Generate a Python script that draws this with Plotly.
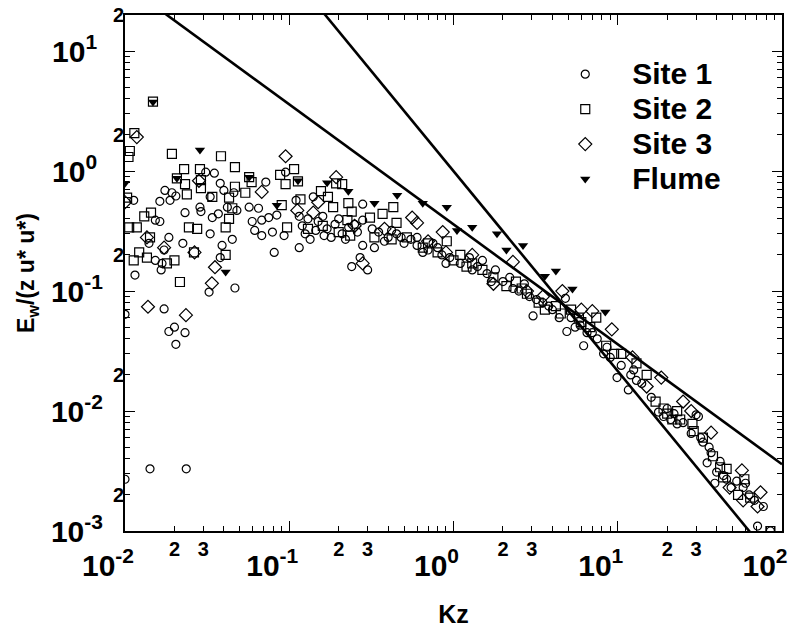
import plotly.graph_objects as go
import math

# ---------------- data ----------------
site1_kz = [0.0100, 0.0100, 0.0142, 0.0236, 0.0115, 0.0173, 0.0200, 0.0185, 0.0232, 0.0204,
            0.0325, 0.0467, 0.038, 0.0153, 0.0168, 0.0166, 0.0140, 0.0173, 0.0185, 0.0225,
            0.039, 0.045, 0.033, 0.081, 0.115, 0.0153, 0.0163, 0.034, 0.037, 0.0595,
            0.068, 0.075, 0.084, 0.0616, 0.068, 0.079, 0.093, 0.0232, 0.0286, 0.029,
            0.042, 0.048, 0.057, 0.065, 0.110, 0.0113, 0.0163, 0.0188, 0.033, 0.0175,
            0.0193, 0.0204, 0.038, 0.040, 0.046, 0.072, 0.031, 0.035, 0.095,
            0.134, 0.163, 0.140, 0.28, 0.28, 0.28, 0.33, 0.27, 0.24, 0.30,
            0.12, 0.13, 0.15, 0.17, 0.19, 0.21, 0.23, 0.26, 0.35, 0.40,
            0.45, 0.50, 0.55, 0.60, 0.70, 0.75, 0.85, 0.95, 1.1, 1.25,
            1.4, 1.6, 1.8, 2.0, 2.2, 2.5, 2.7, 3.05, 3.2, 3.5,
            4.0, 4.4, 4.8, 4.9, 5.5, 6.2, 6.5, 7.5, 8.2, 9.0,
            9.9, 11.6, 12.0, 12.5, 14, 17.7, 19, 21, 23, 30,
            31, 33, 35, 36, 39, 40, 44, 49, 58, 63,
            71, 77, 85,
            0.115, 0.125, 0.145, 0.16, 0.18, 0.20, 0.22, 0.25, 0.32, 0.38,
            0.42, 0.48, 0.60, 0.65, 0.80, 0.90, 1.3, 1.5, 1.7, 2.3,
            2.9, 3.8, 5.2, 5.9, 7.0, 8.6, 10.5, 13, 16, 20,
            22, 25, 28, 32, 37, 42, 46, 53, 60, 68]
site1_e = [0.064, 0.0027, 0.0033, 0.0033, 0.136, 0.071, 0.050, 0.046, 0.045, 0.036,
           0.098, 0.106, 0.19, 0.18, 0.17, 0.15, 0.25, 0.22, 0.28, 0.25,
           0.24, 0.27, 0.30, 0.21, 0.23, 0.39, 0.38, 0.41, 0.44, 0.38,
           0.39, 0.41, 0.43, 0.32, 0.29, 0.31, 0.29, 0.45, 0.50, 0.46,
           0.50, 0.47, 0.50, 0.49, 0.57, 0.57, 0.56, 0.57, 0.61, 0.69,
           0.66, 0.62, 0.79, 0.69, 0.66, 0.81, 0.98, 0.96, 0.98,
           0.27, 0.29, 0.61, 0.53, 0.39, 0.24, 0.23, 0.19, 0.16, 0.15,
           0.35, 0.40, 0.38, 0.33, 0.36, 0.30, 0.34, 0.31, 0.31, 0.28,
           0.30, 0.25, 0.27, 0.24, 0.22, 0.25, 0.20, 0.19, 0.17, 0.19,
           0.16, 0.14, 0.15, 0.12, 0.13, 0.10, 0.115, 0.062, 0.085, 0.080,
           0.070, 0.060, 0.087, 0.046, 0.050, 0.035, 0.045, 0.040, 0.030, 0.028,
           0.019, 0.015, 0.020, 0.022, 0.017, 0.0098, 0.0090, 0.0085, 0.0078, 0.0093,
           0.0090, 0.0055, 0.0037, 0.0050, 0.0025, 0.0031, 0.0029, 0.0023, 0.0023, 0.0020,
           0.0011, 0.0016, 0.0010,
           0.42, 0.30, 0.32, 0.42, 0.28, 0.40, 0.27, 0.36, 0.33, 0.26,
           0.32, 0.28, 0.28, 0.21, 0.23, 0.17, 0.15, 0.18, 0.12, 0.105,
           0.090, 0.075, 0.060, 0.052, 0.045, 0.034, 0.024, 0.018, 0.013, 0.0105,
           0.0095, 0.0080, 0.0065, 0.0060, 0.0045, 0.0038, 0.0027, 0.0026, 0.0025, 0.0018]

site2_kz = [0.0148, 0.0114, 0.0107, 0.0105, 0.0193, 0.0384, 0.0467, 0.107, 0.088, 0.095,
            0.113, 0.0229, 0.0286, 0.0207, 0.0232, 0.029, 0.029, 0.0238, 0.0467, 0.057,
            0.059, 0.054, 0.0103, 0.034, 0.043, 0.045, 0.090, 0.043, 0.041, 0.0275,
            0.0245, 0.097, 0.0131, 0.0144, 0.0106, 0.0118, 0.0142, 0.0263, 0.041, 0.0122,
            0.0113, 0.0136, 0.018, 0.020, 0.0216,
            0.117, 0.156, 0.172, 0.193, 0.21, 0.229, 0.43, 0.185, 0.24, 0.31,
            0.37, 0.226, 0.45, 0.235, 0.91, 0.13, 0.16, 0.20, 0.33, 0.42,
            0.52, 0.65, 0.80, 1.0, 1.2, 1.5, 1.75, 2.1, 2.4, 2.8,
            3.3, 4.2, 5.2, 5.8, 7.4, 6.8, 8.5, 10.5, 13, 15,
            19, 20, 21.5, 23, 28.5, 29, 33, 42, 43.8, 54,
            59, 85, 0.70, 1.1, 1.3, 2.6, 3.6, 4.5, 6.0, 9.5,
            17, 24, 38, 46, 64]
site2_e = [3.8, 2.07, 1.47, 1.31, 1.39, 1.33, 1.08, 1.04, 0.93, 0.78,
           0.82, 1.04, 1.04, 0.87, 0.78, 0.84, 0.72, 0.64, 0.74, 0.89,
           0.81, 0.66, 0.60, 0.61, 0.60, 0.49, 0.52, 0.40, 0.34, 0.33,
           0.34, 0.34, 0.42, 0.45, 0.34, 0.34, 0.28, 0.21, 0.20, 0.21,
           0.18, 0.19, 0.17, 0.18, 0.119,
           0.58, 0.68, 0.61, 0.79, 0.78, 0.54, 0.50, 0.50, 0.46, 0.41,
           0.44, 0.39, 0.37, 0.29, 0.26, 0.33, 0.35, 0.31, 0.28, 0.27,
           0.28, 0.23, 0.21, 0.18, 0.16, 0.15, 0.13, 0.11, 0.12, 0.095,
           0.080, 0.075, 0.070, 0.060, 0.060, 0.050, 0.035, 0.030, 0.025, 0.020,
           0.0105, 0.0095, 0.0085, 0.010, 0.0078, 0.0068, 0.0060, 0.0034, 0.0028, 0.0020,
           0.0027, 0.0010, 0.25, 0.20, 0.17, 0.105, 0.070, 0.065, 0.055, 0.030,
           0.012, 0.0085, 0.0042, 0.0033, 0.0019]

site3_kz = [0.0118, 0.095, 0.0282, 0.068, 0.0136, 0.0173, 0.0265, 0.0353, 0.0338, 0.0138,
            0.0235, 0.193, 0.112, 0.56, 0.60, 0.86, 0.28, 0.14, 0.25, 0.38,
            1.75, 2.3, 1.3, 4.6, 7.0, 9.2, 12.3, 18.4, 28, 37,
            57, 48, 58, 74, 71, 3.5, 6.0, 15, 25, 0.70,
            0.90, 2.8, 0.15, 0.0100]
site3_e = [1.92, 1.33, 0.83, 0.67, 0.28, 0.23, 0.21, 0.158, 0.116, 0.074,
           0.063, 0.89, 0.47, 0.41, 0.37, 0.31, 0.17, 0.45, 0.35, 0.33,
           0.115, 0.175, 0.20, 0.10, 0.068, 0.048, 0.028, 0.019, 0.010, 0.0066,
           0.0032, 0.0023, 0.0018, 0.0021, 0.0016, 0.090, 0.070, 0.016, 0.012, 0.26,
           0.21, 0.10, 0.55, 0.55]

flume_kz = [0.0148, 0.0100, 0.0286, 0.0207, 0.057, 0.113, 0.084, 0.041, 0.17, 0.229,
            0.33, 0.454, 0.65, 0.91, 1.05, 1.3, 1.84, 2.1, 2.65, 3.6,
            4.2, 5.3, 8.4]
flume_e = [3.76, 0.79, 1.5, 0.87, 0.89, 0.83, 0.52, 0.144, 0.80, 0.68,
           0.54, 0.63, 0.54, 0.50, 0.32, 0.34, 0.30, 0.22, 0.24, 0.133,
           0.147, 0.104, 0.067]

# reference lines (slope -1 and slope -5/3), end points
line1_kz = [0.01, 100]
line1_e = [36.0, 0.0036]
line2_kz = [0.1, 100]
line2_e = [46.4, 0.000464]

# tick labels
x_major = [0.01, 0.1, 1, 10, 100]
x_major_text = ["10<sup>-2</sup>", "10<sup>-1</sup>", "10<sup>0</sup>", "10<sup>1</sup>", "10<sup>2</sup>"]
x_small = [0.02, 0.03, 0.2, 0.3, 2, 3, 20, 30]
x_small_text = ["2", "3", "2", "3", "2", "3", "2", "3"]
y_major = [0.001, 0.01, 0.1, 1, 10]
y_major_text = ["10<sup>-3</sup>", "10<sup>-2</sup>", "10<sup>-1</sup>", "10<sup>0\u00a0</sup>", "10<sup>1\u00a0</sup>"]
y_small = [0.002, 0.02, 0.2, 2, 20]
y_small_text = ["2", "2", "2", "2", "2"]

FONT = "Liberation Sans"

x_minor_vals = [k * 10.0 ** e for e in range(-2, 2) for k in range(2, 10)]
y_minor_vals = [k * 10.0 ** e for e in range(-3, 2) for k in range(2, 10) if k * 10.0 ** e < 20]

fig = go.Figure()

mk_line = dict(width=1.2, color="black")
fig.add_trace(go.Scatter(x=site1_kz, y=site1_e, mode="markers", name='<span style="font-size:30px">Site 1</span>',
                         marker=dict(symbol="circle-open", size=8, color="black", line=mk_line)))
fig.add_trace(go.Scatter(x=site2_kz, y=site2_e, mode="markers", name='<span style="font-size:30px">Site 2</span>',
                         marker=dict(symbol="square-open", size=9, color="black", line=mk_line)))
fig.add_trace(go.Scatter(x=site3_kz, y=site3_e, mode="markers", name='<span style="font-size:30px">Site 3</span>',
                         marker=dict(symbol="diamond-open", size=10, color="black", line=mk_line)))
fig.add_trace(go.Scatter(x=flume_kz, y=flume_e, mode="markers", name='<span style="font-size:30px">Flume</span>',
                         marker=dict(symbol="triangle-down", size=9, color="black", line=dict(width=0))))
fig.add_trace(go.Scatter(x=line1_kz, y=line1_e, mode="lines", showlegend=False,
                         line=dict(color="black", width=2.6)))
fig.add_trace(go.Scatter(x=line2_kz, y=line2_e, mode="lines", showlegend=False,
                         line=dict(color="black", width=2.6)))
# carrier for the overlay label axes
fig.add_trace(go.Scatter(x=[], y=[], xaxis="x2", yaxis="y2", showlegend=False, hoverinfo="skip"))

ymax = math.log10(20)

fig.update_layout(
    width=801, height=628,
    margin=dict(l=125, r=19, t=15, b=97, autoexpand=False),
    plot_bgcolor="white", paper_bgcolor="white",
    font=dict(family=FONT, color="black"),
    xaxis=dict(type="log", range=[-2, 2], showline=True, linecolor="black", linewidth=2,
               mirror="allticks", ticks="inside", ticklen=10, tickwidth=1.2, tickcolor="black",
               tickmode="array", tickvals=x_major, ticktext=x_major_text,
               tickfont=dict(family=FONT, size=30, weight="bold", color="black"),
               ticklabelstandoff=7, ticklabelshift=-17, automargin=False,
               showgrid=False, zeroline=False,
               minor=dict(tickmode="array", tickvals=x_minor_vals, ticks="inside", ticklen=5,
                          tickwidth=1, tickcolor="black", showgrid=False),
               title=dict(text="Kz", font=dict(family=FONT, size=25, weight="bold", color="black"), standoff=25)),
    xaxis2=dict(type="log", range=[-2, 2], overlaying="x", anchor="y", side="bottom",
                showline=False, ticks="", showgrid=False, zeroline=False, automargin=False,
                tickmode="array", tickvals=x_small, ticktext=x_small_text, ticklabelstandoff=4,
                tickfont=dict(family=FONT, size=20, weight="bold", color="black")),
    yaxis=dict(type="log", range=[-3, ymax], showline=True, linecolor="black", linewidth=2,
               mirror="allticks", ticks="inside", ticklen=10, tickwidth=1.2, tickcolor="black",
               tickmode="array", tickvals=y_major, ticktext=y_major_text,
               tickfont=dict(family=FONT, size=30, weight="bold", color="black"),
               ticklabelstandoff=14, automargin=False,
               showgrid=False, zeroline=False,
               minor=dict(tickmode="array", tickvals=y_minor_vals, ticks="inside", ticklen=5,
                          tickwidth=1, tickcolor="black", showgrid=False),
               title=dict(text="E<sub>w</sub>/(z u* u*)", font=dict(family=FONT, size=23, weight="bold", color="black"),
                          standoff=10)),
    yaxis2=dict(type="log", range=[-3, ymax], overlaying="y", anchor="x", side="left",
                showline=False, ticks="", showgrid=False, zeroline=False, automargin=False,
                tickmode="array", tickvals=y_small, ticktext=y_small_text,
                tickfont=dict(family=FONT, size=20, weight="bold", color="black")),
    legend=dict(x=0.629, y=0.929, xanchor="left", yanchor="top", bgcolor="rgba(0,0,0,0)",
                font=dict(family=FONT, size=24.6, weight="bold", color="black"), itemwidth=84),
)

fig.write_html("out.html", config={"displayModeBar": False},
               post_script="document.body.style.margin='0px';")
